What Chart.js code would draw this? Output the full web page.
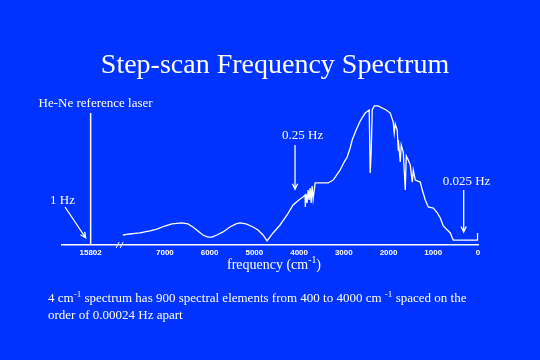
<!DOCTYPE html>
<html>
<head>
<meta charset="utf-8">
<script src="https://cdn.jsdelivr.net/npm/chart.js@4"></script>
<style>
  html, body { margin: 0; padding: 0; background: #0033ff; }
  #wrap { width: 540px; height: 360px; }
</style>
</head>
<body>
<div id="wrap"><canvas id="spectrum" width="540" height="360"></canvas></div>
<script>
// wavenumber (cm-1) of each sample, high to low
var wavenumbers = [
  7940, 7784, 7560, 7336, 7179, 7000, 6843, 6619, 6485, 6373, 6261, 6149,
  6037, 5948, 5836, 5701, 5545, 5410, 5321, 5186, 5030, 4918, 4806, 4716,
  4582, 4425, 4268, 4134, 3977, 3910, 3865, 3860, 3843, 3821, 3798, 3776,
  3753, 3731, 3709, 3686, 3641, 3597, 3350, 3238, 3127, 3082, 2992, 2925,
  2858, 2813, 2724, 2634, 2522, 2432, 2410, 2388, 2365, 2320, 2231, 2141,
  2052, 1962, 1895, 1873, 1850, 1806, 1783, 1780, 1738, 1716, 1671, 1626,
  1604, 1559, 1514, 1470, 1447, 1402, 1291, 1246, 1179, 1111, 1000, 910,
  843, 776, 686, 619, 574, 552, 15, 10,
];
// relative intensity
var intensity = [
  6.9, 7.6, 8.3, 9.7, 11.0, 13.1, 14.5, 15.2, 14.5, 12.4, 9.7, 6.9,
  5.5, 5.5, 6.9, 9.0, 12.4, 14.5, 15.2, 14.5, 12.4, 10.3, 6.9, 2.8,
  8.3, 13.8, 20.7, 27.6, 31.7, 33.1, 34.5, 26.2, 35.2, 29.0, 37.9, 31.0,
  39.3, 29.0, 40.7, 31.7, 42.8, 42.8, 42.8, 44.8, 49.7, 51.7, 57.2, 60.7,
  66.9, 72.4, 79.3, 85.5, 91.0, 93.1, 49.7, 64.1, 93.1, 95.9, 95.9, 94.5,
  93.1, 91.0, 84.8, 77.2, 83.4, 79.3, 65.5, 72.4, 57.2, 69.0, 64.1, 37.9,
  61.4, 58.6, 55.2, 43.4, 51.7, 44.8, 43.4, 37.9, 31.0, 26.2, 25.5, 22.1,
  18.6, 13.1, 10.3, 8.3, 4.8, 3.4, 3.4, 8.3,
];
var laserWavenumber = 15802;
var laserIntensity = [0, 91];
var tickValues = [15802, 7000, 6000, 5000, 4000, 3000, 2000, 1000, 0];

// broken axis: anything above the visible range sits at this spot
var breakPos = 8660;
function axisPos(w) {
  return w > 9300 ? breakPos : w;
}

var serif = "'Liberation Serif', 'Times New Roman', serif";

// text with superscript pieces: parts = [[text, isSup], ...]
function drawParts(ctx, parts, x, y, size, align) {
  var total = 0;
  parts.forEach(function (p) {
    ctx.font = (p[1] ? size * 0.7 : size) + "px " + serif;
    total += ctx.measureText(p[0]).width;
  });
  var cx = align === "center" ? x - total / 2 : x;
  ctx.textAlign = "left";
  ctx.textBaseline = "alphabetic";
  parts.forEach(function (p) {
    ctx.font = (p[1] ? size * 0.7 : size) + "px " + serif;
    ctx.fillText(p[0], cx, p[1] ? y - size * 0.4 : y);
    cx += ctx.measureText(p[0]).width;
  });
}

function arrow(ctx, x1, y1, x2, y2) {
  var a = Math.atan2(y2 - y1, x2 - x1);
  ctx.beginPath();
  ctx.moveTo(x1, y1);
  ctx.lineTo(x2, y2);
  ctx.moveTo(x2 - 6 * Math.cos(a - 0.45), y2 - 6 * Math.sin(a - 0.45));
  ctx.lineTo(x2, y2);
  ctx.lineTo(x2 - 6 * Math.cos(a + 0.45), y2 - 6 * Math.sin(a + 0.45));
  ctx.stroke();
}

var notes = {
  id: "notes",
  afterDraw: function (chart) {
    var ctx = chart.ctx;
    var xs = chart.scales.x;
    var ys = chart.scales.y;
    ctx.save();
    ctx.fillStyle = "#ffffff";
    ctx.strokeStyle = "#ffffff";
    ctx.lineWidth = 1.3;

    ctx.font = "28px " + serif;
    ctx.textAlign = "center";
    ctx.textBaseline = "middle";
    ctx.fillText("Step-scan Frequency Spectrum", 275, 66);

    var lx = xs.getPixelForValue(axisPos(laserWavenumber));
    ctx.font = "13px " + serif;
    ctx.fillText("He-Ne reference laser", lx + 5, 104);

    ctx.textAlign = "left";
    ctx.fillText("1 Hz", 50, 201);
    arrow(ctx, 65, 207, lx - 5, ys.getPixelForValue(5));

    var a1 = xs.getPixelForValue(4090);
    ctx.fillText("0.25 Hz", a1 - 13, 136);
    arrow(ctx, a1, ys.getPixelForValue(69), a1, ys.getPixelForValue(38.5));

    var a2 = xs.getPixelForValue(320);
    ctx.fillText("0.025 Hz", a2 - 21, 182);
    arrow(ctx, a2, ys.getPixelForValue(38), a2, ys.getPixelForValue(9));

    // axis break marks
    var bx = xs.getPixelForValue(8000);
    var by = ys.getPixelForValue(0);
    ctx.lineWidth = 1;
    ctx.beginPath();
    ctx.moveTo(bx - 4, by + 3);
    ctx.lineTo(bx - 1, by - 3);
    ctx.moveTo(bx, by + 3);
    ctx.lineTo(bx + 3, by - 3);
    ctx.stroke();

    drawParts(ctx, [["frequency (cm", false], ["-1", true], [")", false]], 274, 269, 14, "center");

    drawParts(ctx, [
      ["4 cm", false], ["-1", true],
      [" spectrum has 900 spectral elements from 400 to 4000 cm ", false],
      ["-1", true], [" spaced on the", false],
    ], 48, 302, 13, "left");
    drawParts(ctx, [["order of 0.00024 Hz apart", false]], 48, 319, 13, "left");
    ctx.restore();
  },
};

var ctx = document.getElementById("spectrum");
new Chart(ctx, {
  type: "line",
  data: {
    datasets: [
      {
        label: "Spectrum",
        data: wavenumbers.map(function (w, i) {
          return { x: w, y: intensity[i] };
        }),
        borderColor: "#ffffff",
        borderWidth: 1.3,
        pointRadius: 0,
        tension: 0,
      },
      {
        label: "He-Ne",
        data: laserIntensity.map(function (v) {
          return { x: axisPos(laserWavenumber), y: v };
        }),
        borderColor: "#ffffff",
        borderWidth: 1.5,
        pointRadius: 0,
      },
    ],
  },
  options: {
    responsive: false,
    animation: false,
    clip: false,
    layout: { padding: { left: 62, right: 62, top: 100, bottom: 95 } },
    scales: {
      x: {
        type: "linear",
        reverse: true,
        min: 0,
        max: 9300,
        afterBuildTicks: function (scale) {
          scale.ticks = tickValues.map(function (v) {
            return { value: axisPos(v) };
          });
        },
        afterFit: function (scale) {
          scale.height = 20;
        },
        ticks: {
          autoSkip: false,
          maxRotation: 0,
          padding: 3,
          color: "#ffffff",
          font: { family: "'Liberation Sans', sans-serif", size: 8, weight: "bold" },
          callback: function (value, index) {
            return String(tickValues[index]);
          },
        },
        grid: { display: false, drawTicks: false },
        border: { display: true, color: "#ffffff", width: 1.5 },
      },
      y: { display: false, min: 0, max: 100 },
    },
    plugins: {
      legend: { display: false },
      tooltip: { enabled: false },
    },
  },
  plugins: [notes],
});
</script>
</body>
</html>
